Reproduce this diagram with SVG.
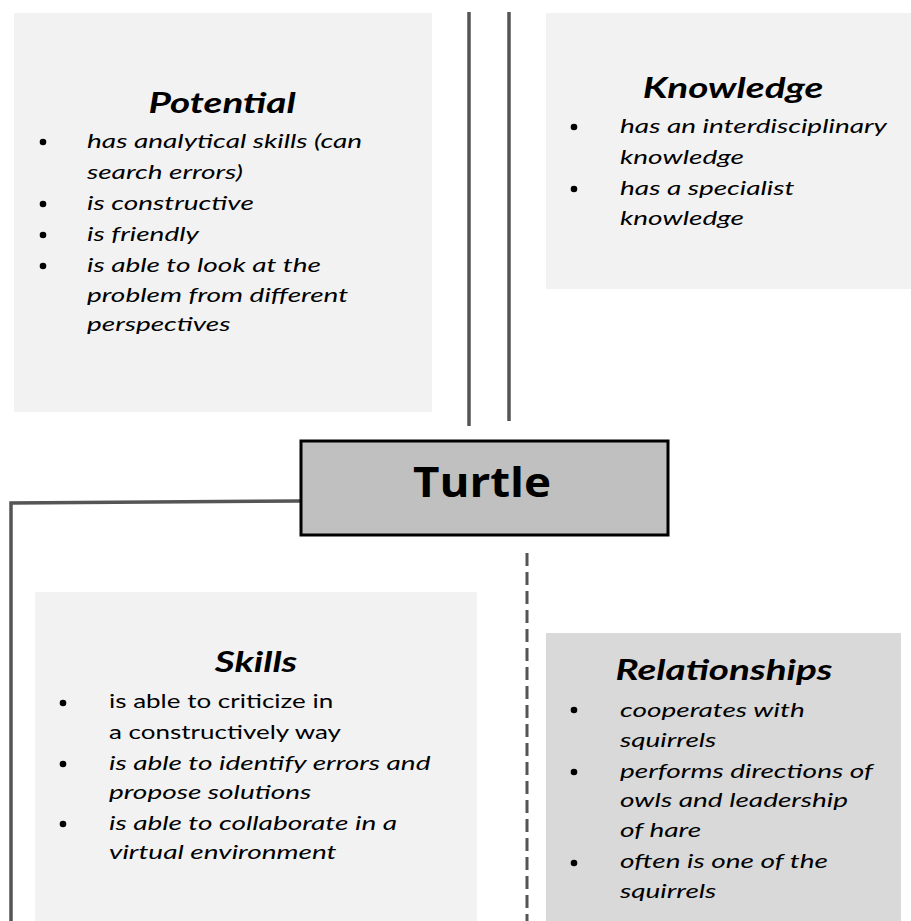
<svg xmlns="http://www.w3.org/2000/svg" width="911" height="921" viewBox="0 0 911 921">
<style>
.box{fill:#f2f2f2}
.rel{fill:#d9d9d9}
.title{font-family:Lato,"Liberation Sans",sans-serif;font-weight:bold;font-style:italic;font-size:28px;fill:#000;text-anchor:middle}
.t{font-family:Lato,"Liberation Sans",sans-serif;font-style:italic;font-size:20px;fill:#000}
.n{font-style:normal}
.bul{fill:#000}
.ln{stroke:#555;stroke-width:3.5;fill:none}
.dash{stroke:#555;stroke-width:3;fill:none;stroke-dasharray:13 6}
.main{font-family:"Open Sans","Liberation Sans",sans-serif;font-weight:bold;font-size:42px;fill:#000;text-anchor:middle}
</style>
<rect width="911" height="921" fill="#fff"/>
<g id="connectors">
<line class="ln" x1="469" y1="12" x2="469" y2="426"/>
<line class="ln" x1="509" y1="12" x2="509" y2="421"/>
<polyline class="ln" points="301,501 11,503 11,921"/>
<line class="dash" x1="527" y1="553" x2="527" y2="921"/>
</g>
<g id="potential">
<rect class="box" x="14" y="13" width="418" height="399"/>
<text class="title" transform="translate(222,0) scale(1.38,1)" x="0" y="113">Potential</text>
<g class="bul"><circle cx="43" cy="142" r="3.3"/><circle cx="43" cy="204" r="3.3"/><circle cx="43" cy="235" r="3.3"/><circle cx="43" cy="266" r="3.3"/></g>
<g transform="translate(87,0) scale(1.4,1)">
<text class="t" x="0" y="148">has analytical skills (can</text>
<text class="t" x="0" y="179">search errors)</text>
<text class="t" x="0" y="210">is constructive</text>
<text class="t" x="0" y="241">is friendly</text>
<text class="t" x="0" y="272">is able to look at the</text>
<text class="t" x="0" y="302">problem from different</text>
<text class="t" x="0" y="331">perspectives</text>
</g>
</g>
<g id="knowledge">
<rect class="box" x="546" y="13" width="365" height="276"/>
<text class="title" transform="translate(733,0) scale(1.38,1)" x="0" y="98">Knowledge</text>
<g class="bul"><circle cx="574" cy="127" r="3.3"/><circle cx="574" cy="189" r="3.3"/></g>
<g transform="translate(620,0) scale(1.4,1)">
<text class="t" x="0" y="133">has an interdisciplinary</text>
<text class="t" x="0" y="164">knowledge</text>
<text class="t" x="0" y="195">has a specialist</text>
<text class="t" x="0" y="225">knowledge</text>
</g>
</g>
<g id="turtle">
<rect x="301" y="441" width="367" height="94" fill="#c0c0c0" stroke="#000" stroke-width="3"/>
<text class="main" transform="translate(482,0) scale(1.09,1)" x="0" y="497">Turtle</text>
</g>
<g id="skills">
<rect class="box" x="35" y="592" width="442" height="329"/>
<text class="title" transform="translate(256,0) scale(1.38,1)" x="0" y="672">Skills</text>
<g class="bul"><circle cx="63" cy="703" r="3.3"/><circle cx="63" cy="764" r="3.3"/><circle cx="63" cy="824" r="3.3"/></g>
<g transform="translate(109,0) scale(1.3,1)">
<text class="t n" x="0" y="708">is able to criticize  in</text>
<text class="t n" x="0" y="739">a constructively way</text>
</g>
<g transform="translate(109,0) scale(1.4,1)">
<text class="t" x="0" y="770">is able to identify errors and</text>
<text class="t" x="0" y="799">propose solutions</text>
<text class="t" x="0" y="830">is able to collaborate in a</text>
<text class="t" x="0" y="859">virtual environment</text>
</g>
</g>
<g id="relationships">
<rect class="rel" x="546" y="633" width="355" height="288"/>
<text class="title" transform="translate(724,0) scale(1.38,1)" x="0" y="680">Relationships</text>
<g class="bul"><circle cx="574" cy="710" r="3.3"/><circle cx="574" cy="772" r="3.3"/><circle cx="574" cy="863" r="3.3"/></g>
<g transform="translate(620,0) scale(1.4,1)">
<text class="t" x="0" y="717">cooperates with</text>
<text class="t" x="0" y="747">squirrels</text>
<text class="t" x="0" y="778">performs directions of</text>
<text class="t" x="0" y="807">owls and leadership</text>
<text class="t" x="0" y="837">of hare</text>
<text class="t" x="0" y="868">often is one of the</text>
<text class="t" x="0" y="898">squirrels</text>
</g>
</g>
</svg>
